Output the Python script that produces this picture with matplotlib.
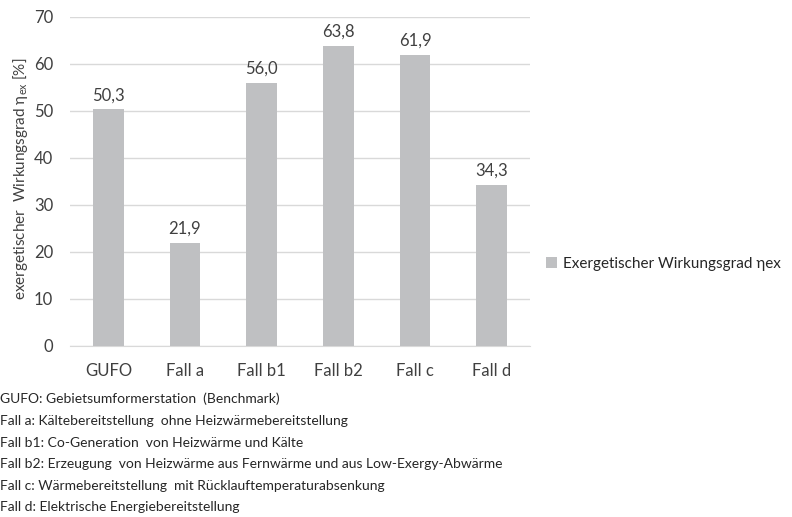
import matplotlib
matplotlib.use("Agg")
import matplotlib.pyplot as plt
from matplotlib.patches import Patch

categories = ["GUFO", "Fall a", "Fall b1", "Fall b2", "Fall c", "Fall d"]
values = [50.3, 21.9, 56.0, 63.8, 61.9, 34.3]
value_labels = ["50,3", "21,9", "56,0", "63,8", "61,9", "34,3"]
yticks = [0, 10, 20, 30, 40, 50, 60, 70]
series_name = "Exergetischer Wirkungsgrad ηex"
captions = [
    "GUFO: Gebietsumformerstation  (Benchmark)",
    "Fall a: Kältebereitstellung  ohne Heizwärmebereitstellung",
    "Fall b1: Co-Generation  von Heizwärme und Kälte",
    "Fall b2: Erzeugung  von Heizwärme aus Fernwärme und aus Low-Exergy-Abwärme",
    "Fall c: Wärmebereitstellung  mit Rücklauftemperaturabsenkung",
    "Fall d: Elektrische Energiebereitstellung",
]

plt.rcParams['font.family'] = ['Lato', 'DejaVu Sans']
txt = '#404040'
bar_color = '#bfc0c2'

fig = plt.figure(figsize=(7.92, 5.17), dpi=100)
ax = fig.add_axes([70/792, 1-346/517, 460/792, (346-16.7)/517])

x = list(range(len(categories)))
ax.bar(x, values, width=0.4, color=bar_color, zorder=3)
for xi, v, lab in zip(x, values, value_labels):
    ax.text(xi, v + 1.3, lab, ha='center', va='bottom', fontsize=12, color=txt)

ax.set_xlim(-0.5, len(categories) - 0.5)
ax.set_ylim(0, 70)
ax.set_yticks(yticks)
ax.set_yticklabels([str(t) for t in yticks])
ax.set_xticks(x)
ax.set_xticklabels(categories)
ax.tick_params(axis='both', length=0, labelsize=12, colors=txt)
ax.tick_params(axis='y', pad=12)
ax.tick_params(axis='x', pad=12)
ax.grid(axis='y', color='#d9d9d9', linewidth=1, zorder=0)
for s in ['top', 'right', 'left']:
    ax.spines[s].set_visible(False)
ax.spines['bottom'].set_color('#d9d9d9')

fig.text(21/792, 1-179/517, r"exergetischer  Wirkungsgrad $\mathregular{\eta_{ex}}$ [%]",
         rotation=90, ha='center', va='center', fontsize=11, color=txt)

leg_handle = Patch(facecolor=bar_color, edgecolor='none')
fig.legend([leg_handle], [series_name], loc='center left',
           bbox_to_anchor=(546/792, 1-264/517), frameon=False,
           borderaxespad=0, borderpad=0,
           fontsize=11, labelcolor='#262626', handlelength=0.7, handleheight=0.7,
           handletextpad=0.4)

ys = [399, 421, 443, 464, 486, 507]
for cap, yy in zip(captions, ys):
    fig.text(0, 1-yy/517, cap, ha='left', va='center', fontsize=10, color='#262626')

fig.savefig("out.png", dpi=100)
